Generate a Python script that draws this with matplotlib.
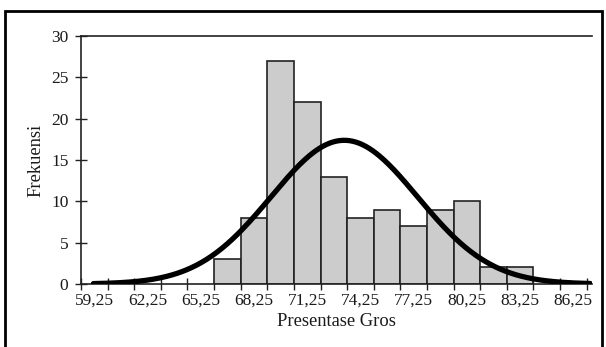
import numpy as np
import matplotlib.pyplot as plt
from matplotlib.patches import Rectangle

# histogram (bin width 1.5)
bin_centers = [66.75, 68.25, 69.75, 71.25, 72.75, 74.25, 75.75, 77.25, 78.75, 80.25, 81.75, 83.25]
counts = [3, 8, 27, 22, 13, 8, 9, 7, 9, 10, 2, 2]
tick_labels = ["59,25", "62,25", "65,25", "68,25", "71,25", "74,25", "77,25", "80,25", "83,25", "86,25"]
bin_width = 1.5

plt.rcParams['font.family'] = ['Liberation Serif', 'DejaVu Serif']

fig = plt.figure(figsize=(6.06, 3.47), dpi=100)
ax = fig.add_axes([81 / 606, 1 - 284 / 347, (592 - 81) / 606, (284 - 36) / 347])

ax.bar(bin_centers, counts, width=bin_width, color="#cccccc", edgecolor="#222222", linewidth=1.2, zorder=2)

# fitted normal curve from the binned data
c = np.array(bin_centers)
n = np.array(counts)
total = n.sum()
mean = (c * n).sum() / total
sd = np.sqrt((n * (c - mean) ** 2).sum() / (total - 1))
xs = np.linspace(59.2, 87.2, 300)
ys = total * bin_width / (sd * np.sqrt(2 * np.pi)) * np.exp(-0.5 * ((xs - mean) / sd) ** 2)
ax.plot(xs, ys, color="black", linewidth=3.8, zorder=3, solid_capstyle="round")

ax.set_xlim(58.5, 87.3)
ax.set_ylim(0, 30)

label_pos = [59.25 + 3 * i for i in range(len(tick_labels))]
ax.set_xticks(label_pos)
ax.set_xticklabels(tick_labels)
ax.set_xticks([58.5 + bin_width * i for i in range(20)], minor=True)
ax.tick_params(axis="x", which="major", length=0, labelsize=12.5, pad=6, labelcolor="#1a1a1a")
ax.tick_params(axis="x", which="minor", direction="inout", length=8, width=1.0, color="#222222")
ax.set_yticks([0, 5, 10, 15, 20, 25, 30])
ax.tick_params(axis="y", direction="inout", length=8, width=1.0, labelsize=12.5, color="#222222",
               pad=5, labelcolor="#1a1a1a")

for side in ["left", "top", "bottom"]:
    ax.spines[side].set_color("#222222")
    ax.spines[side].set_linewidth(1.2)
ax.spines["right"].set_visible(False)

ax.set_xlabel("Presentase Gros", fontsize=13.3, labelpad=3, color="#1a1a1a")
ax.set_ylabel("Frekuensi", fontsize=13.3, labelpad=5, color="#1a1a1a")

# outer frame around the picture
fig.patches.append(Rectangle((5 / 606, -0.05), (602 - 5) / 606, 1.05 - 11 / 347,
                             transform=fig.transFigure, fill=False, edgecolor="black", linewidth=2))

fig.savefig("out.png", dpi=100)
